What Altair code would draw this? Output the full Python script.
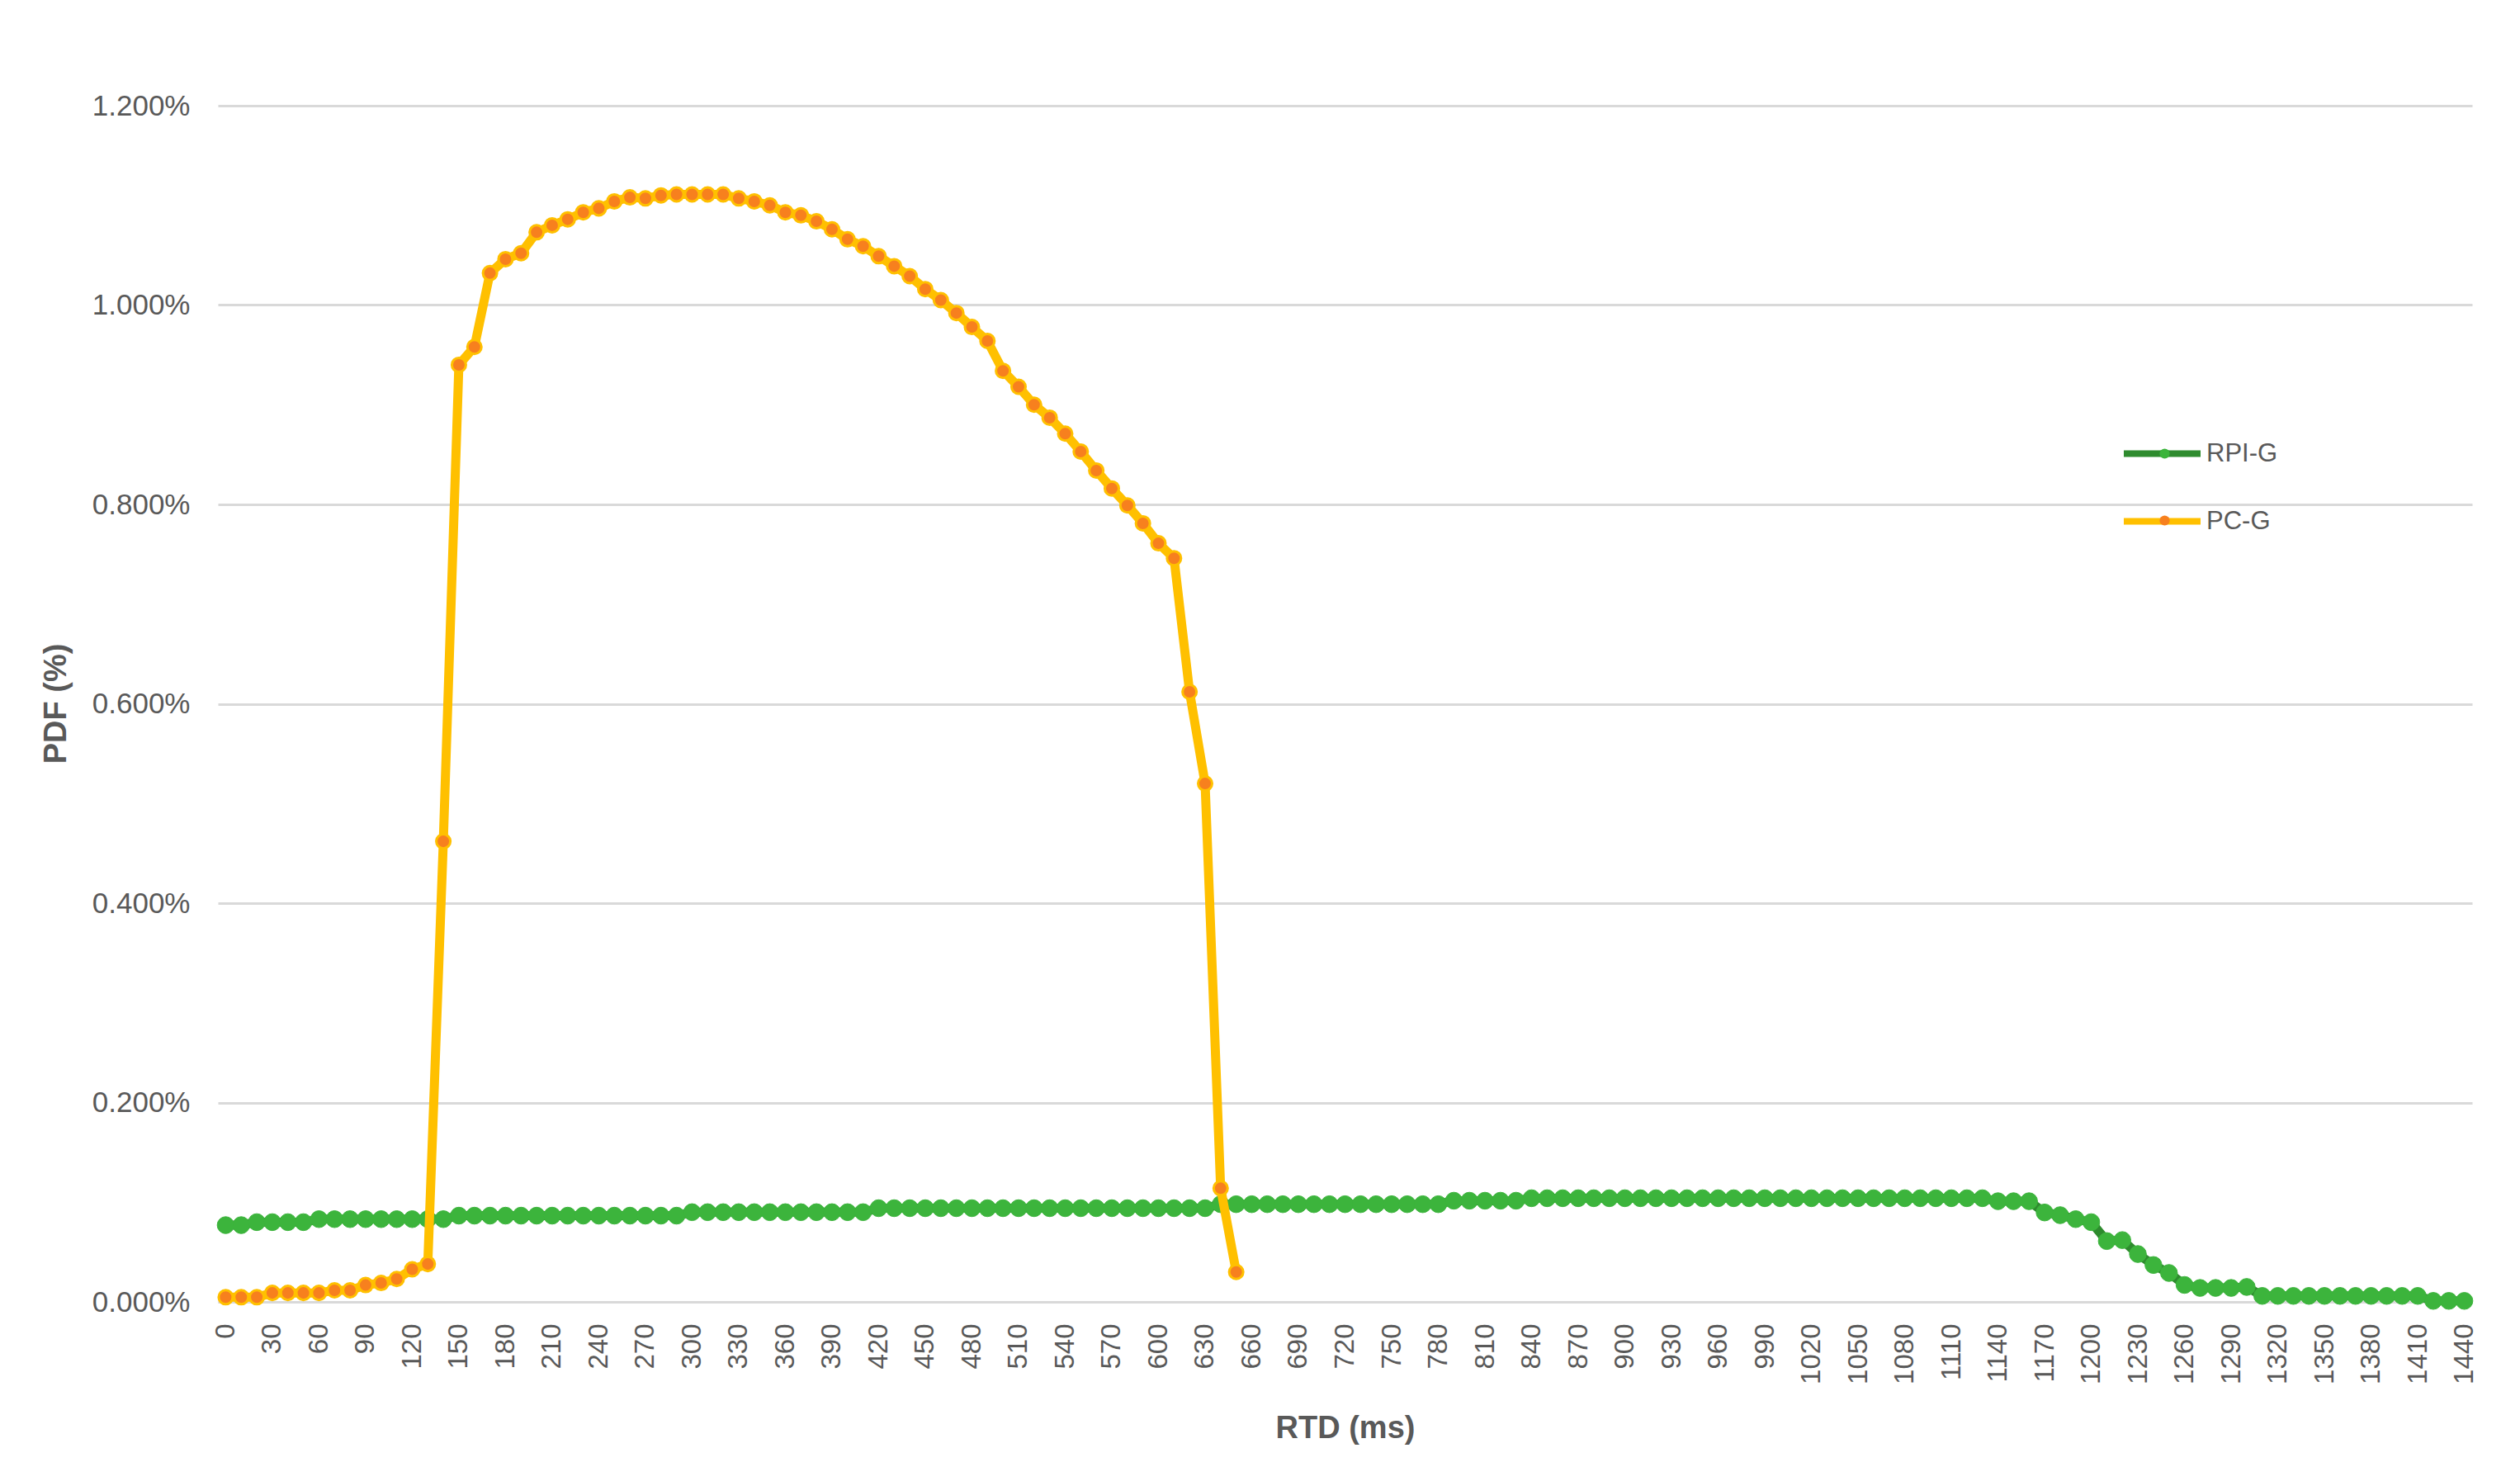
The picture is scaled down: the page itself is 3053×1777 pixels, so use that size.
import altair as alt
import pandas as pd

# ---- data ----
rtd_ms = list(range(0, 1450, 10))          # x categories (ms)
x_tick_labels = list(range(0, 1450, 30))   # labelled categories
y_tick_values = [0.0, 0.2, 0.4, 0.6, 0.8, 1.0, 1.2]  # percent
series_names = ["RPI-G", "PC-G"]

rpi_g = [
    0.077, 0.077, 0.080, 0.080, 0.080, 0.080, 0.083, 0.083, 0.083, 0.083,
    0.083, 0.083, 0.083, 0.083, 0.083, 0.0865, 0.0865, 0.0865, 0.0865, 0.0865,
    0.0865, 0.0865, 0.0865, 0.0865, 0.0865, 0.0865, 0.0865, 0.0865, 0.0865, 0.0865,
    0.090, 0.090, 0.090, 0.090, 0.090, 0.090, 0.090, 0.090, 0.090, 0.090,
    0.090, 0.090, 0.094, 0.094, 0.094, 0.094, 0.094, 0.094, 0.094, 0.094,
    0.094, 0.094, 0.094, 0.094, 0.094, 0.094, 0.094, 0.094, 0.094, 0.094,
    0.094, 0.094, 0.094, 0.094, 0.098, 0.098, 0.098, 0.098, 0.098, 0.098,
    0.098, 0.098, 0.098, 0.098, 0.098, 0.098, 0.098, 0.098, 0.098, 0.1015,
    0.1015, 0.1015, 0.1015, 0.1015, 0.104, 0.104, 0.104, 0.104, 0.104, 0.104,
    0.104, 0.104, 0.104, 0.104, 0.104, 0.104, 0.104, 0.104, 0.104, 0.104,
    0.104, 0.104, 0.104, 0.104, 0.104, 0.104, 0.104, 0.104, 0.104, 0.104,
    0.104, 0.104, 0.104, 0.104, 0.101, 0.101, 0.101, 0.0897, 0.087, 0.083,
    0.080, 0.061, 0.062, 0.048, 0.037, 0.029, 0.017, 0.014, 0.014, 0.014,
    0.015, 0.006, 0.006, 0.006, 0.006, 0.006, 0.006, 0.006, 0.006, 0.006,
    0.006, 0.006, 0.001, 0.001, 0.001,
]

pc_g = [
    0.0047, 0.0047, 0.0047, 0.009, 0.009, 0.009, 0.009, 0.0116, 0.0116, 0.0169,
    0.019, 0.023, 0.0327, 0.038, 0.462, 0.940, 0.958, 1.032, 1.046, 1.052,
    1.073, 1.080, 1.086, 1.093, 1.097, 1.104, 1.108, 1.107, 1.110, 1.111,
    1.111, 1.111, 1.111, 1.107, 1.104, 1.100, 1.093, 1.090, 1.084, 1.076,
    1.066, 1.059, 1.049, 1.039, 1.029, 1.016, 1.005, 0.992, 0.978, 0.964,
    0.934, 0.918, 0.900, 0.887, 0.871, 0.853, 0.834, 0.816, 0.799, 0.781,
    0.761, 0.746, 0.612, 0.520, 0.114, 0.030,
]

rows = []
for x, v in zip(rtd_ms, rpi_g):
    rows.append({"rtd": x, "series": "RPI-G", "pdf": v})
for x, v in zip(rtd_ms, pc_g):
    rows.append({"rtd": x, "series": "PC-G", "pdf": v})
df = pd.DataFrame(rows)
# separate field names so the line legend and the marker legend stay separate
df["line_series"] = df["series"]
df["marker_series"] = df["series"]
df["marker_edge"] = df["series"]

FONT = "Liberation Sans"
GRAY = "#595959"
GRID = "#D9D9D9"
X_TICK_FS = 33
Y_TICK_FS = 35
TITLE_FS = 38
LEG_FS = 31

x_enc = alt.X(
    "rtd:O",
    sort=rtd_ms,
    scale=alt.Scale(type="point", domain=rtd_ms, padding=0.5),
    axis=alt.Axis(
        values=x_tick_labels, labelAngle=-90, labelAlign="right",
        labelBaseline="middle", labelPadding=26, labelOverlap=False,
        ticks=False, domain=True, domainColor=GRID, domainWidth=3, grid=False,
        labelFont=FONT, labelFontSize=X_TICK_FS, labelColor=GRAY,
        title="RTD (ms)", titleFont=FONT, titleFontSize=TITLE_FS, titleFontWeight="bold",
        titleColor=GRAY, titleY=153, titleBaseline="middle",
    ),
)
y_enc = alt.Y(
    "pdf:Q",
    scale=alt.Scale(domain=[0, 1.2], nice=False, zero=True),
    axis=alt.Axis(
        values=y_tick_values, labelExpr="format(datum.value, '.3f') + '%'",
        grid=True, gridColor=GRID, gridWidth=3, domain=False, ticks=False,
        labelPadding=34, labelFont=FONT, labelFontSize=Y_TICK_FS, labelColor=GRAY,
        title="PDF (%)", titleFont=FONT, titleFontSize=TITLE_FS, titleFontWeight="bold",
        titleColor=GRAY, titleX=-196, titleY=724, titleBaseline="middle",
        titleAlign="center", titleAngle=-90,
    ),
)

color_enc = alt.Color(
    "line_series:N",
    scale=alt.Scale(domain=series_names, range=["#2E8B2E", "#FFC000"]),
    legend=alt.Legend(
        orient="none", legendX=2340, legendY=406, title=None, padding=0,
        symbolType="M-5,0H5", symbolSize=346, symbolStrokeWidth=8,
        labelFont=FONT, labelFontSize=LEG_FS, labelColor=GRAY, labelOffset=38,
        rowPadding=49,
    ),
)
# marker legend: domain comes from the data (sorted like series_names) so it is
# kept apart from the line legend and drawn on top of it, without its own text
fill_enc = alt.Fill(
    "marker_series:N",
    sort=series_names,
    scale=alt.Scale(range=["#3CB43C", "#F7801E"]),
    legend=alt.Legend(
        orient="none", legendX=2343, legendY=406, title=None, padding=0,
        symbolType="circle", symbolSize=150, symbolStrokeWidth=0,
        labelFont=FONT, labelFontSize=LEG_FS, labelExpr="''", rowPadding=49,
    ),
)
stroke_enc = alt.Stroke(
    "marker_edge:N",
    scale=alt.Scale(domain=series_names, range=["#3CB43C", "#FFC000"]),
    legend=None,
)

base = alt.Chart(df)
green = base.transform_filter(alt.datum.series == "RPI-G")
orange = base.transform_filter(alt.datum.series == "PC-G")

green_line = green.mark_line(strokeWidth=11, strokeJoin="round").encode(
    x=x_enc, y=y_enc, color=color_enc)
green_pts = green.mark_point(filled=True, size=420, opacity=1, strokeWidth=1).encode(
    x=x_enc, y=y_enc, fill=fill_enc, stroke=stroke_enc)
orange_line = orange.mark_line(strokeWidth=11, strokeJoin="round", strokeCap="round").encode(
    x=x_enc, y=y_enc, color=color_enc)
orange_pts = orange.mark_point(filled=True, size=290, opacity=1, strokeWidth=3).encode(
    x=x_enc, y=y_enc, fill=fill_enc, stroke=stroke_enc)

chart = alt.layer(green_line, green_pts, orange_line, orange_pts).properties(
    width=2731, height=1449,
    autosize=alt.AutoSizeParams(type="none"),
    padding={"left": 256, "top": 120, "right": 40, "bottom": 180},
    background="white",
).configure_view(stroke=None)

chart.save("out.html", embed_options={"renderer": "svg", "actions": False})
